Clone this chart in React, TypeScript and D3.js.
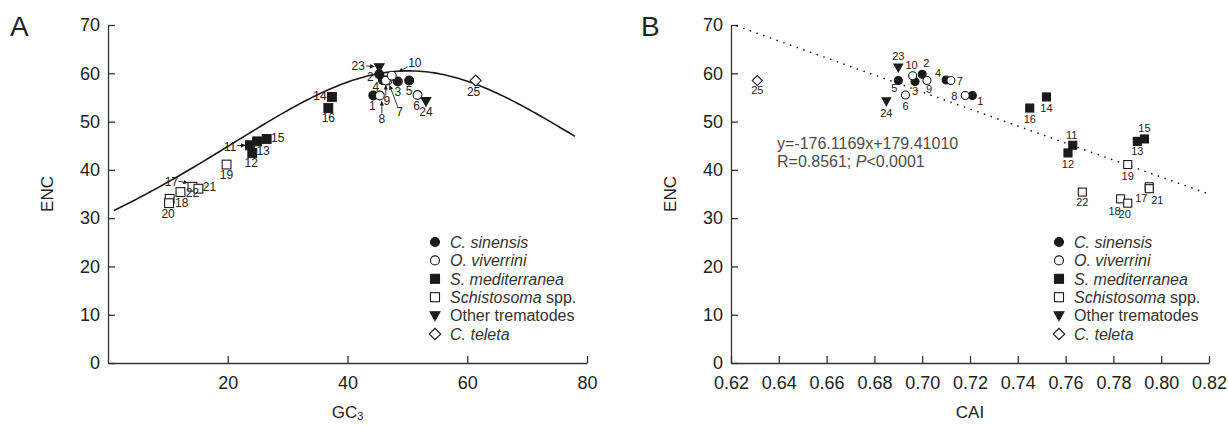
import React, { useEffect, useRef } from "react";
import * as d3 from "d3";

// points 1-25
const pointIds = [1, 2, 3, 4, 5, 6, 7, 8, 9, 10, 11, 12, 13, 14, 15, 16, 17, 18, 19, 20, 21, 22, 23, 24, 25];
const pointGroups = [
  "cs", "cs", "cs", "cs", "cs",
  "ov", "ov", "ov", "ov", "ov",
  "sm", "sm", "sm", "sm", "sm", "sm",
  "sc", "sc", "sc", "sc", "sc", "sc",
  "ot", "ot", "ct",
];
const gc3Values = [44.3, 45.3, 48.4, 45.9, 50.3, 51.7, 46.7, 45.4, 46.4, 47.4, 23.7, 24.1, 24.9, 37.4, 26.5, 36.8, 14.1, 10.3, 19.8, 10.2, 15.1, 12.1, 45.3, 53.1, 61.4];
const caiValues = [0.721, 0.7, 0.697, 0.71, 0.69, 0.693, 0.712, 0.718, 0.702, 0.696, 0.763, 0.761, 0.79, 0.752, 0.793, 0.745, 0.795, 0.783, 0.786, 0.786, 0.795, 0.767, 0.69, 0.685, 0.631];
const encValues = [55.4, 59.8, 58.3, 58.6, 58.5, 55.5, 58.5, 55.4, 58.5, 59.5, 45.1, 43.5, 45.9, 55.1, 46.4, 52.8, 36.5, 34.0, 41.1, 33.1, 36.1, 35.4, 61.2, 54.2, 58.5];

const encTicks = [0, 10, 20, 30, 40, 50, 60, 70];
const gc3Ticks = [20, 40, 60, 80];
const caiTicks = [0.62, 0.64, 0.66, 0.68, 0.7, 0.72, 0.74, 0.76, 0.78, 0.8, 0.82];

const legendGroups = ["cs", "ov", "sm", "sc", "ot", "ct"];
const legendLabels: [string, boolean][][] = [
  [["C. sinensis", true]],
  [["O. viverrini", true]],
  [["S. mediterranea", true]],
  [["Schistosoma", true], [" spp.", false]],
  [["Other trematodes", false]],
  [["C. teleta", true]],
];

const regSlope = -176.1169;
const regIntercept = 179.4101;

// label offsets (px) for the point numbers
const labelOffA: Record<number, [number, number]> = {
  1: [-1, 10], 2: [-9, 2], 3: [0, 10], 4: [-7, 7], 5: [0, 10], 6: [-1, 11],
  7: [12, 31], 8: [2, 23], 9: [1, 20], 10: [23, -13], 11: [-20, 1], 12: [-1, 10],
  13: [6, 9], 14: [-12, -1], 15: [11, -1], 16: [0, 10], 17: [-21, -5], 18: [12, 4],
  19: [0, 10], 20: [-1, 11], 21: [11, -2], 22: [12, 1], 23: [-21, -2], 24: [0, 10], 25: [-2, 11],
};
const arrowsA: Record<number, [number, number, number, number]> = {
  23: [-13, -1.5, -5, -1],
  10: [16, -9, 7, -4],
  7: [10, 26, 2, 5],
  8: [2, 18, 2, 6],
  9: [0, 15, 0, 5],
  11: [-13, 0.5, -5, 0],
  17: [-14, -5.5, -5, -4],
};
const labelOffB: Record<number, [number, number]> = {
  1: [8, 6], 2: [4, -11], 3: [0, 10], 4: [-8, -7], 5: [-4, 8], 6: [0, 11],
  7: [9, 1], 8: [-11, 1], 9: [2, 9], 10: [-1, -11], 11: [-1, -10], 12: [0, 11],
  13: [0, 10], 14: [0, 11], 15: [0, -11], 16: [0, 11], 17: [-8, 11], 18: [-6, 12],
  19: [0, 11], 20: [-3, 11], 21: [8, 11], 22: [0, 10], 23: [0, -11], 24: [0, 12], 25: [0, 10],
};

const FONT = "'Liberation Sans', Arial, Helvetica, sans-serif";
const INK = "#1a1a1a";

const FILLED: Record<string, boolean> = { cs: true, ov: false, sm: true, sc: false, ot: true, ct: false };
const SHAPE: Record<string, string> = { cs: "circle", ov: "circle", sm: "square", sc: "square", ot: "triangle", ct: "diamond" };

function addMarker(g: any, group: string, cx: number, cy: number, s: number) {
  const shape = SHAPE[group];
  let node;
  if (shape === "circle") {
    node = g.append("circle").attr("cx", cx).attr("cy", cy).attr("r", s);
  } else if (shape === "square") {
    node = g.append("rect").attr("x", cx - s).attr("y", cy - s).attr("width", 2 * s).attr("height", 2 * s);
  } else if (shape === "triangle") {
    node = g.append("path").attr("d", `M${cx - s * 1.1},${cy - s * 0.85}L${cx + s * 1.1},${cy - s * 0.85}L${cx},${cy + s * 1.1}Z`);
  } else {
    const r = s * 1.25;
    node = g.append("path").attr("d", `M${cx},${cy - r}L${cx + r},${cy}L${cx},${cy + r}L${cx - r},${cy}Z`);
  }
  node
    .attr("fill", FILLED[group] ? INK : "#fff")
    .attr("stroke", INK)
    .attr("stroke-width", 1.1);
}

const styleAxis = (g: any) => {
  g.attr("font-family", FONT).attr("font-size", 18);
  g.selectAll("text").attr("fill", "#222");
  g.selectAll("line, path").attr("stroke", "#333").attr("stroke-width", 1.3);
};

export default function App() {
  const svgRef = useRef<SVGSVGElement>(null);

  useEffect(() => {
    const svg = d3.select(svgRef.current);
    svg.selectAll("*").remove();

    svg
      .append("defs")
      .append("marker")
      .attr("id", "arr")
      .attr("viewBox", "0 0 10 10")
      .attr("refX", 9)
      .attr("refY", 5)
      .attr("markerWidth", 5)
      .attr("markerHeight", 5)
      .attr("orient", "auto")
      .append("path")
      .attr("d", "M0,0L10,5L0,10Z")
      .attr("fill", INK);

    const yTop = 25;
    const yBottom = 363;

    const points = pointIds.map((id, i) => ({
      id,
      group: pointGroups[i],
      gc3: gc3Values[i],
      cai: caiValues[i],
      enc: encValues[i],
    }));

    const panels = [
      {
        key: "A",
        letterX: 10,
        x: d3.scaleLinear().domain([0, 80]).range([108, 587]),
        ticks: gc3Ticks,
        fmt: d3.format("d"),
        val: (d: any) => d.gc3,
        labels: labelOffA,
        ms: 4.4,
        labelSize: 12,
        legendX: 435,
      },
      {
        key: "B",
        letterX: 641,
        x: d3.scaleLinear().domain([0.62, 0.82]).range([731, 1209]),
        ticks: caiTicks,
        fmt: d3.format(".2f"),
        val: (d: any) => d.cai,
        labels: labelOffB,
        ms: 4,
        labelSize: 11,
        legendX: 1059,
      },
    ];

    panels.forEach((p) => {
      const g = svg.append("g");
      const x = p.x;
      const y = d3.scaleLinear().domain([0, 70]).range([yBottom, yTop]);
      const [x0, x1] = x.range();

      // panel letter
      g.append("text")
        .attr("x", p.letterX)
        .attr("y", 36)
        .attr("font-family", FONT)
        .attr("font-size", 28)
        .attr("fill", "#222")
        .text(p.key);

      // axes
      g.append("g")
        .attr("transform", `translate(${x0},0)`)
        .call(d3.axisLeft(y).tickValues(encTicks).tickSizeInner(-7).tickSizeOuter(0).tickPadding(8))
        .call(styleAxis);

      g.append("g")
        .attr("transform", `translate(0,${yBottom})`)
        .call(d3.axisBottom(x).tickValues(p.ticks).tickFormat(p.fmt as any).tickSizeInner(-7).tickSizeOuter(0).tickPadding(13))
        .call(styleAxis);

      // axis titles
      g.append("text")
        .attr("transform", `translate(${x0 - 61},${(yTop + yBottom) / 2}) rotate(-90)`)
        .attr("text-anchor", "middle")
        .attr("dy", "0.35em")
        .attr("font-family", FONT)
        .attr("font-size", 17)
        .attr("fill", "#222")
        .text("ENC");

      const title = g
        .append("text")
        .attr("x", (x0 + x1) / 2)
        .attr("y", yBottom + 55)
        .attr("text-anchor", "middle")
        .attr("font-family", FONT)
        .attr("font-size", 17)
        .attr("fill", "#222");
      if (p.key === "A") {
        title.append("tspan").text("GC");
        title.append("tspan").attr("font-size", 11).attr("dy", 2).text("3");
      } else {
        title.text("CAI");
      }

      // expected curve / regression line
      if (p.key === "A") {
        const expectedEnc = (gc: number) => {
          const s = gc / 100;
          return 2 + s + 29 / (s * s + (1 - s) * (1 - s));
        };
        const line = d3
          .line<number>()
          .x((d) => x(d))
          .y((d) => y(expectedEnc(d)));
        g.append("path")
          .attr("d", line(d3.range(1, 78.01, 0.5)))
          .attr("fill", "none")
          .attr("stroke", INK)
          .attr("stroke-width", 1.6);
      } else {
        const line = d3
          .line<number>()
          .x((d) => x(d))
          .y((d) => y(regSlope * d + regIntercept));
        g.append("path")
          .attr("d", line([0.6225, 0.819]))
          .attr("fill", "none")
          .attr("stroke", INK)
          .attr("stroke-width", 1.6)
          .attr("stroke-linecap", "round")
          .attr("stroke-dasharray", "0.1 7");

        const reg = g
          .append("g")
          .attr("font-family", FONT)
          .attr("font-size", 16)
          .attr("fill", "#4d4d4d");
        reg.append("text").attr("x", 777).attr("y", 149).text("y=-176.1169x+179.41010");
        const r2 = reg.append("text").attr("x", 777).attr("y", 167);
        r2.append("tspan").text("R=0.8561; ");
        r2.append("tspan").attr("font-style", "italic").text("P");
        r2.append("tspan").text("<0.0001");
      }

      // points
      const pts = g.append("g");
      points.forEach((d) => addMarker(pts, d.group, x(p.val(d)), y(d.enc), p.ms));

      // arrows (panel A)
      if (p.key === "A") {
        points.forEach((d) => {
          const a = arrowsA[d.id];
          if (!a) return;
          const cx = x(p.val(d));
          const cy = y(d.enc);
          g.append("line")
            .attr("x1", cx + a[0])
            .attr("y1", cy + a[1])
            .attr("x2", cx + a[2])
            .attr("y2", cy + a[3])
            .attr("stroke", INK)
            .attr("stroke-width", 0.9)
            .attr("marker-end", "url(#arr)");
        });
      }

      // point numbers
      g.append("g")
        .selectAll("text")
        .data(points)
        .join("text")
        .attr("x", (d) => x(p.val(d)) + p.labels[d.id][0])
        .attr("y", (d) => y(d.enc) + p.labels[d.id][1])
        .attr("dy", "0.36em")
        .attr("text-anchor", "middle")
        .attr("font-family", FONT)
        .attr("font-size", p.labelSize)
        .attr("fill", "#222")
        .text((d) => d.id);

      // legend
      const rowY = d3.scalePoint<string>().domain(legendGroups).range([242, 334]);
      const lg = g.append("g");
      legendGroups.forEach((grp, i) => {
        const cy = rowY(grp) as number;
        addMarker(lg, grp, p.legendX, cy, grp === "ct" ? 4.6 : 4.5);
        const t = lg
          .append("text")
          .attr("x", p.legendX + 15)
          .attr("y", cy)
          .attr("dy", "0.36em")
          .attr("font-family", FONT)
          .attr("font-size", 16)
          .attr("fill", "#333");
        legendLabels[i].forEach(([txt, it]) => {
          t.append("tspan")
            .attr("font-style", it ? "italic" : "normal")
            .text(txt);
        });
      });
    });
  }, []);

  return (
    <svg
      ref={svgRef}
      width={1228}
      height={425}
      style={{ position: "absolute", left: 0, top: 0, background: "#fff" }}
    />
  );
}
